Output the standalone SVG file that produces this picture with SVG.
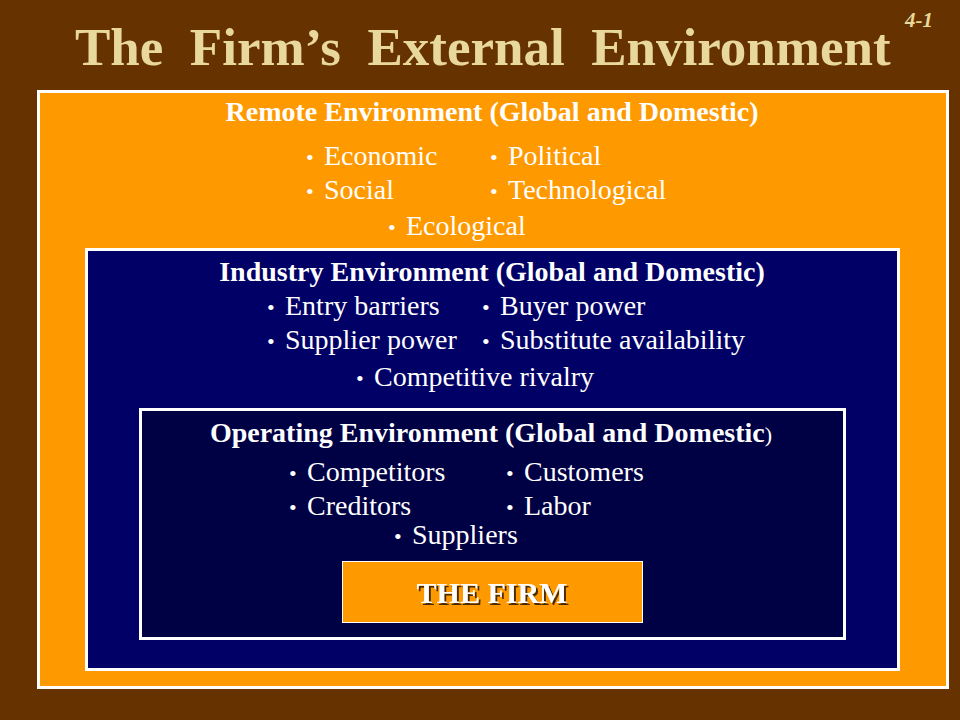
<svg xmlns="http://www.w3.org/2000/svg" width="960" height="720" viewBox="0 0 960 720">
<defs>
<style>
.title{font-family:"Liberation Serif","Times New Roman",serif;font-weight:bold;fill:#E9D89C;}
.head{font-family:"Liberation Serif","Times New Roman",serif;font-weight:bold;font-size:28px;fill:#FFFFFF;text-anchor:middle;}
.item{font-family:"Liberation Serif","Times New Roman",serif;font-size:28px;fill:#FFFFFF;}
.b{font-size:22px;}
.box{stroke:#FFFFFF;stroke-width:3;}
</style>
<filter id="sh" x="-10%" y="-20%" width="130%" height="150%">
<feDropShadow dx="2" dy="2" stdDeviation="0.6" flood-color="#2a1500" flood-opacity="0.85"/>
</filter>
</defs>
<rect x="0" y="0" width="960" height="720" fill="#663300"/>
<g id="title">
<text class="title" x="75" y="65" font-size="53" xml:space="preserve">The  Firm’s  External  Environment</text>
<text class="title" x="905" y="27" font-size="21" font-style="italic">4-1</text>
</g>
<g id="remote">
<rect class="box" x="38.5" y="91.5" width="909" height="596" fill="#FF9900"/>
<text class="head" x="492" y="121">Remote Environment (Global and Domestic)</text>
<text class="item" x="306" y="165"><tspan class="b">•</tspan><tspan x="324">Economic</tspan></text>
<text class="item" x="490" y="165"><tspan class="b">•</tspan><tspan x="508">Political</tspan></text>
<text class="item" x="306" y="199"><tspan class="b">•</tspan><tspan x="324">Social</tspan></text>
<text class="item" x="490" y="199"><tspan class="b">•</tspan><tspan x="508">Technological</tspan></text>
<text class="item" x="388" y="235"><tspan class="b">•</tspan><tspan x="406">Ecological</tspan></text>
</g>
<g id="industry">
<rect class="box" x="86.5" y="249.5" width="812" height="420" fill="#000066"/>
<text class="head" x="492" y="281">Industry Environment (Global and Domestic)</text>
<text class="item" x="267" y="315"><tspan class="b">•</tspan><tspan x="285">Entry barriers</tspan></text>
<text class="item" x="482" y="315"><tspan class="b">•</tspan><tspan x="500">Buyer power</tspan></text>
<text class="item" x="267" y="349"><tspan class="b">•</tspan><tspan x="285">Supplier power</tspan></text>
<text class="item" x="482" y="349"><tspan class="b">•</tspan><tspan x="500">Substitute availability</tspan></text>
<text class="item" x="356" y="386"><tspan class="b">•</tspan><tspan x="374">Competitive rivalry</tspan></text>
</g>
<g id="operating">
<rect class="box" x="140.5" y="409.5" width="704" height="229" fill="#000044"/>
<text class="head" x="491" y="442">Operating Environment (Global and Domestic<tspan font-weight="normal" font-size="22">)</tspan></text>
<text class="item" x="289" y="481"><tspan class="b">•</tspan><tspan x="307">Competitors</tspan></text>
<text class="item" x="506" y="481"><tspan class="b">•</tspan><tspan x="524">Customers</tspan></text>
<text class="item" x="289" y="515"><tspan class="b">•</tspan><tspan x="307">Creditors</tspan></text>
<text class="item" x="506" y="515"><tspan class="b">•</tspan><tspan x="524">Labor</tspan></text>
<text class="item" x="394" y="544"><tspan class="b">•</tspan><tspan x="412">Suppliers</tspan></text>
</g>
<g id="firm">
<rect x="342.5" y="561.5" width="300" height="61" fill="#FF9900" stroke="#FFFFFF" stroke-width="1"/>
<text x="492" y="603" font-family="'Liberation Serif','Times New Roman',serif" font-weight="bold" font-size="30" fill="#FFFFFF" text-anchor="middle" filter="url(#sh)">THE FIRM</text>
</g>
<g id="connectors"/>
</svg>
